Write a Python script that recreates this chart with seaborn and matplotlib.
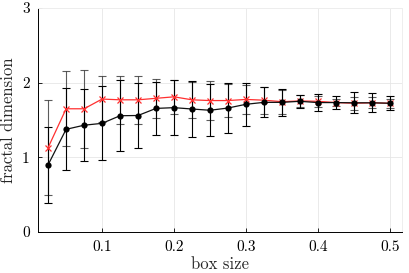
import numpy as np
import pandas as pd
import seaborn as sns
import matplotlib.pyplot as plt

# box sizes
box_size = [0.025, 0.05, 0.075, 0.1, 0.125, 0.15, 0.175, 0.2, 0.225, 0.25,
            0.275, 0.3, 0.325, 0.35, 0.375, 0.4, 0.425, 0.45, 0.475, 0.5]

# red series (x markers)
red_mean = [1.13, 1.65, 1.65, 1.78, 1.77, 1.77, 1.79, 1.81, 1.77, 1.76,
            1.76, 1.775, 1.765, 1.745, 1.755, 1.75, 1.733, 1.724, 1.73, 1.724]
red_err = [0.64, 0.50, 0.52, 0.31, 0.32, 0.32, 0.26, 0.23, 0.24, 0.265,
           0.22, 0.19, 0.18, 0.16, 0.08, 0.07, 0.05, 0.09, 0.075, 0.06]

# black series (filled circles)
black_mean = [0.90, 1.375, 1.43, 1.455, 1.557, 1.56, 1.655, 1.665, 1.647, 1.63,
              1.66, 1.71, 1.736, 1.736, 1.75, 1.733, 1.733, 1.73, 1.73, 1.724]
black_err = [0.51, 0.55, 0.48, 0.495, 0.475, 0.44, 0.36, 0.365, 0.375, 0.35,
             0.335, 0.29, 0.20, 0.18, 0.09, 0.11, 0.09, 0.14, 0.125, 0.095]

df = pd.DataFrame({'box': box_size * 2,
                   'fd': red_mean + black_mean,
                   'err': red_err + black_err,
                   'series': ['red'] * len(box_size) + ['black'] * len(box_size)})

sns.set_style('whitegrid')
plt.rcParams['font.family'] = ['cmr10', 'DejaVu Serif']
plt.rcParams['mathtext.fontset'] = 'cm'
plt.rcParams['axes.formatter.use_mathtext'] = True

fig = plt.figure(figsize=(4.09, 2.73), dpi=100)
ax = fig.add_axes([0.093, 0.150, 0.890, 0.821])

red = df[df.series == 'red']
blk = df[df.series == 'black']

# error bars
ax.errorbar(red.box, red.fd, yerr=red.err, fmt='none', ecolor='#333333',
            elinewidth=0.8, capsize=3.2, capthick=0.8, alpha=0.8, zorder=2)
ax.errorbar(blk.box, blk.fd, yerr=blk.err, fmt='none', ecolor='black',
            elinewidth=0.8, capsize=3.2, capthick=0.8, zorder=2)

sns.lineplot(data=red, x='box', y='fd', color='#ff3030', marker='x',
             markersize=5, markeredgewidth=0.9, markeredgecolor='#ff3030',
             linewidth=0.9, ax=ax, zorder=3)
sns.lineplot(data=blk, x='box', y='fd', color='#111111', marker='o',
             markersize=4.5, markeredgewidth=0, markerfacecolor='black',
             linewidth=0.9, ax=ax, zorder=4)

ax.set_xlim(0.011, 0.517)
ax.set_ylim(0, 3)
ax.set_xticks([0.1, 0.2, 0.3, 0.4, 0.5])
ax.set_yticks([0, 1, 2, 3])
ax.set_xticklabels(['0.1', '0.2', '0.3', '0.4', '0.5'])
ax.set_yticklabels(['0', '1', '2', '3'])
ax.set_xlabel('box size', fontsize=12, labelpad=2)
ax.set_ylabel('fractal dimension', fontsize=12, labelpad=4)
ax.tick_params(labelsize=11, direction='in', length=3, width=0.6,
               bottom=True, left=True, colors='black', pad=6)

ax.grid(True, color='#e6e6e6', linewidth=0.6)
for side in ['left', 'bottom']:
    ax.spines[side].set_color('black')
    ax.spines[side].set_linewidth(0.7)
for side in ['top', 'right']:
    ax.spines[side].set_color('#eeeeee')
    ax.spines[side].set_linewidth(0.7)

plt.savefig('out.png', dpi=100)
